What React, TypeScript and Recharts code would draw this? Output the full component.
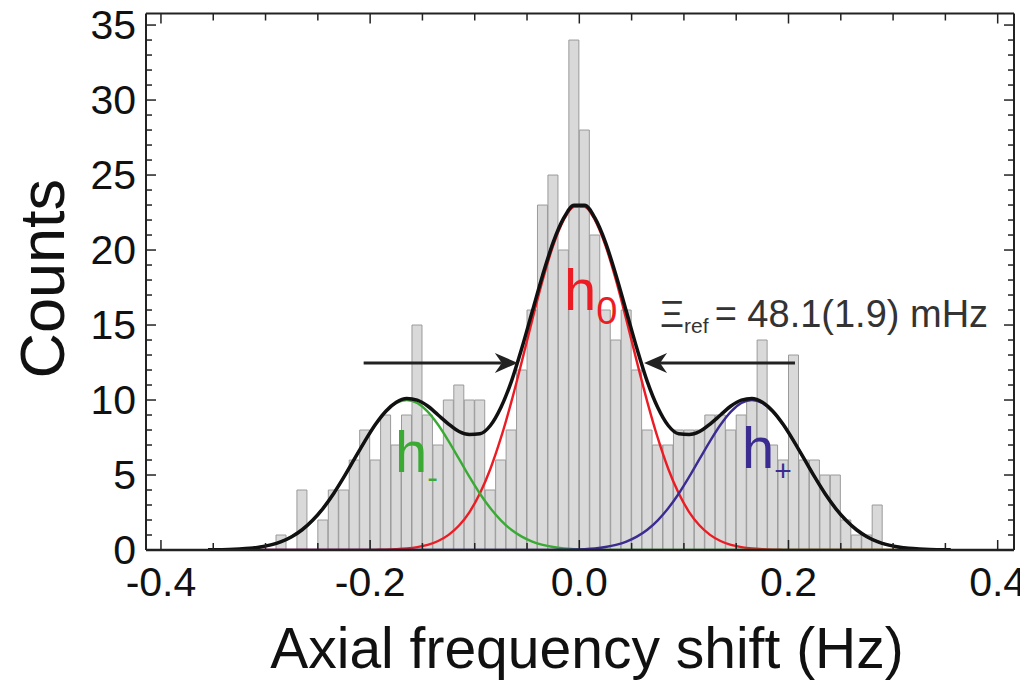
import {
  ComposedChart,
  Bar,
  Line,
  XAxis,
  YAxis,
  ReferenceLine,
  ReferenceDot,
  Label
} from 'recharts'

// bin centres of the histogram (Hz), 10 mHz bins
const binCenters = [
  -0.355, -0.345, -0.335, -0.325, -0.315, -0.305, -0.295, -0.285, -0.275, -0.265,
  -0.255, -0.245, -0.235, -0.225, -0.215, -0.205, -0.195, -0.185, -0.175, -0.165,
  -0.155, -0.145, -0.135, -0.125, -0.115, -0.105, -0.095, -0.085, -0.075, -0.065,
  -0.055, -0.045, -0.035, -0.025, -0.015, -0.005, 0.005, 0.015, 0.025, 0.035,
  0.045, 0.055, 0.065, 0.075, 0.085, 0.095, 0.105, 0.115, 0.125, 0.135,
  0.145, 0.155, 0.165, 0.175, 0.185, 0.195, 0.205, 0.215, 0.225, 0.235,
  0.245, 0.255, 0.265, 0.275, 0.285, 0.295, 0.305, 0.315, 0.325, 0.335,
  0.345, 0.355
]

// histogram counts per bin
const counts = [
  0, 0, 0, 0, 0, 0, 0, 1, 0, 4,
  0, 2, 4, 4, 6, 8, 6, 9, 7, 9,
  15, 9, 7, 10, 11, 10, 10, 4, 6, 8,
  12, 16, 23, 25, 20, 34, 28, 21, 16, 14,
  16, 12, 8, 7, 7, 8, 8, 8, 9, 9,
  8, 9, 10, 14, 7, 6, 13, 6, 6, 5,
  5, 2, 1, 1, 3, 0, 0, 0, 0, 0,
  0, 0
]

// fitted components read at the bin centres
const h0 = [
  0, 0, 0, 0, 0, 0, 0, 0, 0, 0,
  0, 0, 0, 0, 0, 0, 0.01, 0.02, 0.05, 0.1,
  0.19, 0.34, 0.6, 1.01, 1.63, 2.53, 3.78, 5.42, 7.47, 9.88,
  12.56, 15.34, 18.0, 20.3, 21.99, 22.89, 22.89, 21.99, 20.3, 18.0,
  15.34, 12.56, 9.88, 7.47, 5.42, 3.78, 2.53, 1.63, 1.01, 0.6,
  0.34, 0.19, 0.1, 0.05, 0.02, 0.01, 0, 0, 0, 0,
  0, 0, 0, 0, 0, 0, 0, 0, 0, 0,
  0, 0
]

const hMinus = [
  0.01, 0.02, 0.03, 0.06, 0.11, 0.2, 0.34, 0.56, 0.89, 1.35,
  1.98, 2.78, 3.75, 4.87, 6.07, 7.26, 8.35, 9.23, 9.8, 10.0,
  9.8, 9.23, 8.35, 7.26, 6.07, 4.87, 3.75, 2.78, 1.98, 1.35,
  0.89, 0.56, 0.34, 0.2, 0.11, 0.06, 0.03, 0.02, 0.01, 0,
  0, 0, 0, 0, 0, 0, 0, 0, 0, 0,
  0, 0, 0, 0, 0, 0, 0, 0, 0, 0,
  0, 0, 0, 0, 0, 0, 0, 0, 0, 0,
  0, 0
]

const hPlus = [
  0, 0, 0, 0, 0, 0, 0, 0, 0, 0,
  0, 0, 0, 0, 0, 0, 0, 0, 0, 0,
  0, 0, 0, 0, 0, 0, 0, 0, 0, 0,
  0, 0, 0, 0.01, 0.02, 0.03, 0.06, 0.11, 0.2, 0.34,
  0.56, 0.89, 1.35, 1.98, 2.78, 3.75, 4.87, 6.07, 7.26, 8.35,
  9.23, 9.8, 10.0, 9.8, 9.23, 8.35, 7.26, 6.07, 4.87, 3.75,
  2.78, 1.98, 1.35, 0.89, 0.56, 0.34, 0.2, 0.11, 0.06, 0.03,
  0.02, 0.01
]

// sum of the three components as drawn (black curve)
const total = [
  0.01, 0.02, 0.03, 0.06, 0.11, 0.2, 0.34, 0.56, 0.89, 1.35,
  1.98, 2.78, 3.75, 4.87, 6.07, 7.26, 8.36, 9.25, 9.85, 10.1,
  9.99, 9.6, 9.0, 8.4, 7.9, 7.7, 7.75, 8.3, 9.5, 11.23,
  13.45, 15.9, 18.34, 20.51, 22.12, 22.98, 22.98, 22.12, 20.51, 18.34,
  15.9, 13.45, 11.23, 9.5, 8.3, 7.75, 7.7, 7.9, 8.4, 9.0,
  9.6, 9.99, 10.1, 9.85, 9.25, 8.36, 7.26, 6.07, 4.87, 3.75,
  2.78, 1.98, 1.35, 0.89, 0.56, 0.34, 0.2, 0.11, 0.06, 0.03,
  0.02, 0.01
]

const xTicks = [-0.4, -0.35, -0.3, -0.25, -0.2, -0.15, -0.1, -0.05, 0, 0.05, 0.1, 0.15, 0.2, 0.25, 0.3, 0.35, 0.4]
const yTicks = [
  0, 1, 2, 3, 4, 5, 6, 7, 8, 9, 10, 11, 12, 13, 14, 15, 16, 17,
  18, 19, 20, 21, 22, 23, 24, 25, 26, 27, 28, 29, 30, 31, 32, 33, 34, 35
]

const xDomain = [-0.4143, 0.4156]
const yDomain = [0, 35.77]

const axisColor = '#222'
const red = '#ec1c24'
const green = '#3aaa35'
const blue = '#3b2c91'
const font = '"Liberation Sans", Arial, Helvetica, sans-serif'

const chartData = binCenters.map((x, i) => ({
  x,
  count: counts[i],
  h0: h0[i],
  hMinus: hMinus[i],
  hPlus: hPlus[i],
  total: total[i]
}))

const isMajorX = (v: number) => Math.abs(v * 5 - Math.round(v * 5)) < 1e-6
const isMajorY = (v: number) => v % 5 === 0

const BottomTick = (props: any) => {
  const { x, y, payload } = props
  const major = isMajorX(payload.value)
  return (
    <g>
      <line x1={x} x2={x} y1={y} y2={y - (major ? 10 : 7)} stroke={axisColor} strokeWidth={1.5} />
      {major && (
        <text x={x} y={y + 46} textAnchor="middle" fontSize={41} fontFamily={font} fill="#111">
          {payload.value.toFixed(1)}
        </text>
      )}
    </g>
  )
}

const TopTick = (props: any) => {
  const { x, y, payload } = props
  const major = isMajorX(payload.value)
  return <line x1={x} x2={x} y1={y} y2={y + (major ? 10 : 7)} stroke={axisColor} strokeWidth={1.5} />
}

const LeftTick = (props: any) => {
  const { x, y, payload } = props
  const major = isMajorY(payload.value)
  return (
    <g>
      <line x1={x} x2={x + (major ? 10 : 6)} y1={y} y2={y} stroke={axisColor} strokeWidth={1.5} />
      {major && (
        <text x={x - 10} y={y + 14} textAnchor="end" fontSize={41} fontFamily={font} fill="#111">
          {payload.value}
        </text>
      )}
    </g>
  )
}

const RightTick = (props: any) => {
  const { x, y, payload } = props
  const major = isMajorY(payload.value)
  return <line x1={x} x2={x - (major ? 10 : 6)} y1={y} y2={y} stroke={axisColor} strokeWidth={1.5} />
}

// line with a filled arrow head at its (x2, y2) end
const Arrow = (props: any) => {
  const { x1, y1, x2, y2 } = props
  const d = x2 > x1 ? 1 : -1
  const pts = [
    `${x2},${y2}`,
    `${x2 - d * 23},${y2 - 10}`,
    `${x2 - d * 16},${y2}`,
    `${x2 - d * 23},${y2 + 10}`
  ].join(' ')
  return (
    <g>
      <line x1={x1} y1={y1} x2={x2 - d * 16} y2={y2} stroke="#222" strokeWidth={3} />
      <polygon points={pts} fill="#222" />
    </g>
  )
}

const textAt = (render: (cx: number, cy: number) => any) => (p: any) => render(p.cx, p.cy)

export default function App() {
  return (
    <div style={{ width: 1020, height: 678 }}>
      <ComposedChart
        width={1020}
        height={678}
        data={chartData}
        margin={{ top: 4.5, right: 13, bottom: 0, left: 0 }}
        style={{ overflow: 'visible' }}
      >
        <XAxis
          dataKey="x"
          type="number"
          domain={xDomain}
          allowDataOverflow
          ticks={xTicks}
          interval={0}
          height={136}
          tickLine={false}
          tickSize={0}
          tickMargin={0}
          tick={BottomTick}
          axisLine={{ stroke: axisColor, strokeWidth: 2.5 }}
        >
          <Label
            content={(p: any) => {
              const vb = p.viewBox
              return (
                <text x={vb.x + vb.width / 2 + 7} y={vb.y + 118} textAnchor="middle" fontSize={57} fontFamily={font} fill="#111">
                  Axial frequency shift (Hz)
                </text>
              )
            }}
          />
        </XAxis>
        <XAxis
          xAxisId="top"
          dataKey="x"
          orientation="top"
          type="number"
          domain={xDomain}
          allowDataOverflow
          ticks={xTicks}
          interval={0}
          height={1}
          tickLine={false}
          tickSize={0}
          tickMargin={0}
          tick={TopTick}
          axisLine={{ stroke: axisColor, strokeWidth: 2 }}
        />
        <YAxis
          type="number"
          domain={yDomain}
          allowDataOverflow
          ticks={yTicks}
          interval={0}
          width={138}
          tickLine={false}
          tickSize={0}
          tickMargin={0}
          tick={LeftTick}
          axisLine={{ stroke: axisColor, strokeWidth: 2 }}
        >
          <Label
            content={(p: any) => {
              const vb = p.viewBox
              const cy = vb.y + vb.height / 2 - 3
              return (
                <text x={56} y={cy} transform={`rotate(-90 56 ${cy})`} textAnchor="middle" fontSize={63} fontFamily={font} fill="#111">
                  Counts
                </text>
              )
            }}
          />
        </YAxis>
        <YAxis
          yAxisId="right"
          orientation="right"
          type="number"
          domain={yDomain}
          allowDataOverflow
          ticks={yTicks}
          interval={0}
          width={1}
          tickLine={false}
          tickSize={0}
          tickMargin={0}
          tick={RightTick}
          axisLine={{ stroke: axisColor, strokeWidth: 2 }}
        />

        <Bar dataKey="count" fill="#d9d9d9" stroke="#9a9a9a" strokeWidth={1} barSize={10} isAnimationActive={false} />
        {/* invisible series so the top and right frame axes are in use */}
        <Line xAxisId="top" yAxisId="right" dataKey="count" stroke="none" dot={false} activeDot={false} isAnimationActive={false} />
        <Line dataKey="h0" type="monotone" stroke={red} strokeWidth={2.4} dot={false} isAnimationActive={false} />
        <Line dataKey="hMinus" type="monotone" stroke={green} strokeWidth={2.4} dot={false} isAnimationActive={false} />
        <Line dataKey="hPlus" type="monotone" stroke={blue} strokeWidth={2.4} dot={false} isAnimationActive={false} />
        <Line dataKey="total" type="monotone" stroke="#111" strokeWidth={3.5} dot={false} isAnimationActive={false} />

        <ReferenceLine segment={[{ x: -0.2062, y: 12.47 }, { x: -0.0588, y: 12.47 }]} shape={Arrow} />
        <ReferenceLine segment={[{ x: 0.2062, y: 12.47 }, { x: 0.0619, y: 12.47 }]} shape={Arrow} />

        <ReferenceDot
          x={-0.0146}
          y={16}
          r={0}
          shape={textAt((cx, cy) => (
            <text x={cx} y={cy} fontFamily={font} fill={red}>
              <tspan fontSize={58}>h</tspan>
              <tspan fontSize={38} dy={14}>0</tspan>
            </text>
          ))}
        />
        <ReferenceDot
          x={-0.1762}
          y={5.2}
          r={0}
          shape={textAt((cx, cy) => (
            <text x={cx} y={cy} fontFamily={font} fill={green}>
              <tspan fontSize={58}>h</tspan>
              <tspan fontSize={32} dy={16}>-</tspan>
            </text>
          ))}
        />
        <ReferenceDot
          x={0.1555}
          y={5.47}
          r={0}
          shape={textAt((cx, cy) => (
            <text x={cx} y={cy} fontFamily={font} fill={blue}>
              <tspan fontSize={58}>h</tspan>
              <tspan fontSize={30} dy={13}>+</tspan>
            </text>
          ))}
        />
        <ReferenceDot
          x={0.0772}
          y={14.9}
          r={0}
          shape={textAt((cx, cy) => (
            <text x={cx} y={cy} fontFamily={font} fill="#333">
              <tspan fontSize={37}>Ξ</tspan>
              <tspan fontSize={21} dy={6}>ref</tspan>
              <tspan fontSize={38} dy={-6} dx={6}>= 48.1(1.9) mHz</tspan>
            </text>
          ))}
        />
      </ComposedChart>
    </div>
  )
}
